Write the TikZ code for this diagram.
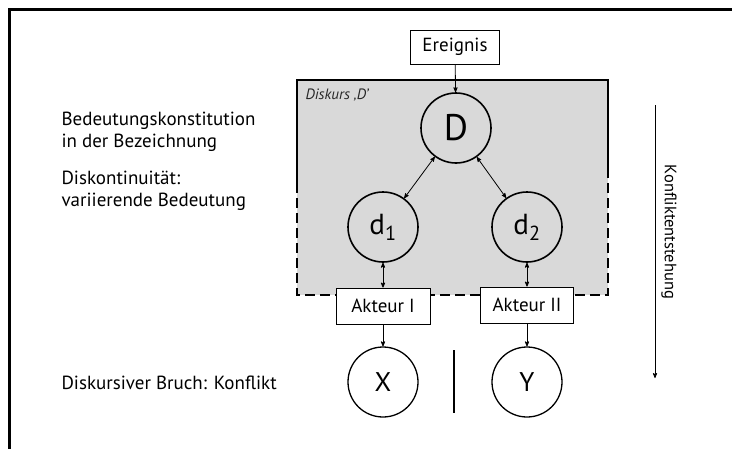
\documentclass[tikz,border=0pt]{standalone}
\usepackage{fontspec}
\setmainfont{PT Sans}
\usepackage{tikz}
\usetikzlibrary{positioning,arrows}

\begin{document}
\begin{tikzpicture}[->,>=stealth',x=1pt,y=-1pt,
    zustand/.style={circle,draw,line width=1.6pt,minimum size=70pt,inner sep=0pt,text=black},
    kasten/.style={draw,fill=white,line width=0.9pt,inner sep=0pt,text=black,font=\fontsize{19}{22}\selectfont},
    erklaerung/.style={align=left,anchor=west,text=black,font=\fontsize{19}{21.5}\selectfont}]

    \useasboundingbox (0,0) rectangle (732,448);

    % Rahmen
    \draw[-,line width=3pt] (9,460) -- (9,9) -- (740,9);

    % Diskurs
    \fill[black!15] (297,80) rectangle (608,295);
    \draw[-,line width=1.4pt] (297,183) -- (297,80) -- (608,80) -- (608,175);
    \draw[-,line width=1.4pt,dash pattern=on 10pt off 5pt] (297,183) -- (297,295) -- (608,295) -- (608,175);
    \node [anchor=west,text=black!85,font=\itshape\fontsize{15}{17}\selectfont] at (302,95) (diskurs) {Diskurs ‚D’};

    % Die Knoten
    \node [kasten,minimum width=89pt,minimum height=34pt] at (455,47) (ereignis) {Ereignis};
    \node [zustand,font=\fontsize{37}{37}\selectfont] at (456,128) (D) {D};
    \node [zustand,font=\fontsize{29}{29}\selectfont] at (383,227) (d1) {d\textsubscript{1}};
    \node [zustand,font=\fontsize{29}{29}\selectfont] at (527,227) (d2) {d\textsubscript{2}};
    \node [kasten,minimum width=94pt,minimum height=36pt] at (383,306) (a1) {Akteur I};
    \node [kasten,minimum width=93pt,minimum height=36pt] at (527,305) (a2) {Akteur II};
    \node [zustand,line width=1.3pt,font=\fontsize{27}{27}\selectfont] at (383,382) (X) {X};
    \node [zustand,line width=1.3pt,font=\fontsize{27}{27}\selectfont] at (527,382) (Y) {Y};
    \coordinate (bruchoben) at (454,350);
    \coordinate (bruchunten) at (454,413);

    % Erklaerungen links
    \node [erklaerung] at (58,132) (konst) {Bedeutungskonstitution\\in der Bezeichnung};
    \node [erklaerung] at (58,191) (diskont) {Diskontinuität:\\variierende Bedeutung};
    \node [erklaerung] at (58,383) (bruch) {Diskursiver Bruch: Konflikt};

    % Konfliktentstehung
    \coordinate (zeitoben) at (655,105);
    \coordinate (zeitunten) at (655,378);
    \node [rotate=-90,text=black,font=\fontsize{16.5}{19}\selectfont] at (669,232) (entstehung) {Konfliktentstehung};

    % Verbindungen
    \path[->,line width=0.8pt]
    (ereignis) edge (D)
    (a1) edge (X)
    (a2) edge (Y)
    (zeitoben) edge (zeitunten);

    \path[<->,line width=0.8pt]
    (D) edge (d1)
    (D) edge (d2)
    (d1) edge (a1)
    (d2) edge (a2);

    \path[-,line width=1.2pt]
    (bruchoben) edge (bruchunten);
\end{tikzpicture}
\end{document}
